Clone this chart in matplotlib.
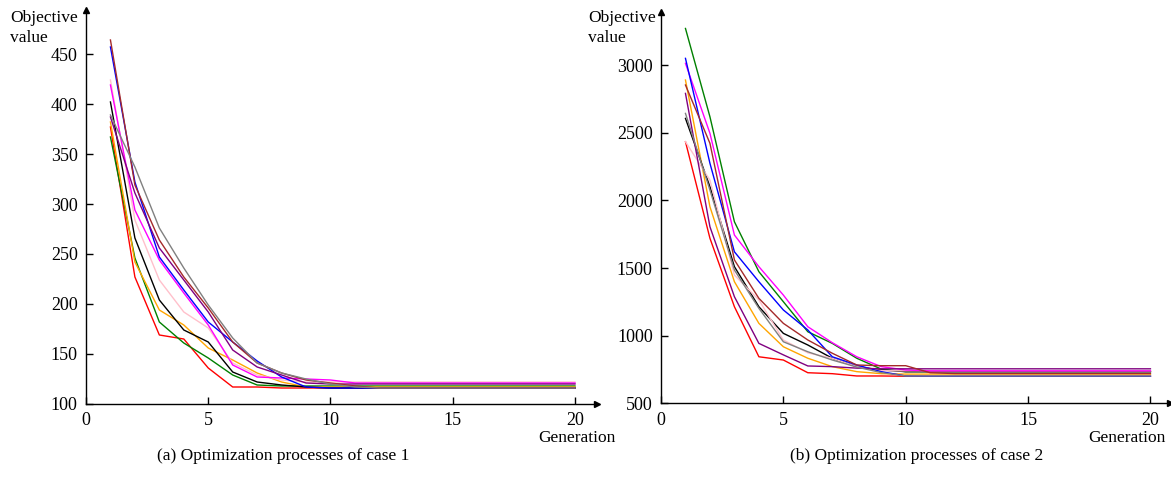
import matplotlib
matplotlib.use("Agg")
import matplotlib.pyplot as plt

plt.rcParams['font.family'] = ['Liberation Serif', 'DejaVu Serif']

generations = list(range(1, 21))
colors = ['red', 'green', 'orange', 'black', 'pink', 'magenta', 'blue', 'purple', 'brown', 'gray']

# Case 1 series (generation 1..20)
c1_red     = [377, 227, 169, 165, 136, 117, 117, 116, 116, 116, 116, 116, 116, 116, 116, 116, 116, 116, 116, 116]
c1_green   = [367, 246, 182, 161, 146, 129, 119, 118, 118, 118, 118, 118, 118, 118, 118, 118, 118, 118, 118, 118]
c1_orange  = [382, 242, 194, 179, 156, 144, 131, 122, 117, 117, 117, 117, 117, 117, 117, 117, 117, 117, 117, 117]
c1_black   = [402, 266, 204, 174, 162, 132, 122, 119, 117, 116, 116, 116, 116, 116, 116, 116, 116, 116, 116, 116]
c1_pink    = [424, 284, 224, 192, 176, 141, 129, 124, 122, 122, 122, 122, 122, 122, 122, 122, 122, 122, 122, 122]
c1_magenta = [419, 294, 244, 211, 179, 139, 127, 126, 125, 124, 121, 121, 121, 121, 121, 121, 121, 121, 121, 121]
c1_blue    = [457, 322, 247, 214, 182, 162, 143, 127, 117, 116, 116, 116, 116, 116, 116, 116, 116, 116, 116, 116]
c1_purple  = [387, 311, 256, 224, 192, 154, 137, 129, 121, 120, 120, 120, 120, 120, 120, 120, 120, 120, 120, 120]
c1_brown   = [464, 319, 264, 227, 196, 162, 141, 131, 124, 121, 118, 116, 116, 116, 116, 116, 116, 116, 116, 116]
c1_gray    = [389, 337, 276, 236, 199, 166, 141, 131, 125, 120, 117, 116, 116, 116, 116, 116, 116, 116, 116, 116]

# Case 2 series (generation 1..20)
c2_red     = [2434, 1720, 1214, 844, 820, 726, 719, 702, 702, 700, 700, 700, 700, 700, 700, 700, 700, 700, 700, 700]
c2_green   = [3271, 2618, 1842, 1473, 1251, 1029, 943, 833, 753, 734, 734, 734, 734, 734, 734, 734, 734, 734, 734, 734]
c2_orange  = [2890, 1953, 1399, 1091, 918, 833, 771, 734, 719, 716, 716, 716, 716, 716, 716, 716, 716, 716, 716, 716]
c2_black   = [2606, 2101, 1510, 1214, 1017, 931, 833, 771, 746, 734, 734, 734, 734, 734, 734, 734, 734, 734, 734, 734]
c2_pink    = [2434, 2150, 1448, 1264, 968, 873, 833, 771, 741, 740, 740, 740, 740, 740, 740, 740, 740, 740, 740, 740]
c2_magenta = [3013, 2496, 1744, 1510, 1300, 1066, 948, 844, 771, 746, 740, 740, 740, 740, 740, 740, 740, 740, 740, 740]
c2_blue    = [3050, 2274, 1620, 1399, 1190, 1042, 844, 783, 734, 702, 700, 700, 700, 700, 700, 700, 700, 700, 700, 700]
c2_purple  = [2791, 1805, 1288, 943, 858, 776, 771, 760, 755, 755, 755, 755, 755, 755, 755, 755, 755, 755, 755, 755]
c2_brown   = [2853, 2422, 1560, 1276, 1091, 968, 870, 783, 778, 778, 726, 720, 720, 720, 720, 720, 720, 720, 720, 720]
c2_gray    = [2643, 2076, 1485, 1202, 955, 881, 820, 768, 727, 702, 702, 702, 702, 702, 702, 702, 702, 702, 702, 702]

case1 = [c1_red, c1_green, c1_orange, c1_black, c1_pink, c1_magenta, c1_blue, c1_purple, c1_brown, c1_gray]
case2 = [c2_red, c2_green, c2_orange, c2_black, c2_pink, c2_magenta, c2_blue, c2_purple, c2_brown, c2_gray]

xticks = [0, 5, 10, 15, 20]
yticks1 = [100, 150, 200, 250, 300, 350, 400, 450]
yticks2 = [500, 1000, 1500, 2000, 2500, 3000]

W, H = 1171, 483
fig = plt.figure(figsize=(W / 100, H / 100), dpi=100)

ax1 = fig.add_axes([86 / W, 1 - 404 / H, 511 / W, 394 / H])
ax2 = fig.add_axes([661 / W, 1 - 403.3 / H, 509 / W, 391.6 / H])


def style(ax, yticks, ylim, xlim):
    for s in ['top', 'right']:
        ax.spines[s].set_visible(False)
    for s in ['left', 'bottom']:
        ax.spines[s].set_linewidth(1.0)
        ax.spines[s].set_color('black')
    ax.set_xlim(*xlim)
    ax.set_ylim(*ylim)
    ax.set_xticks(xticks)
    ax.set_yticks(yticks)
    ax.tick_params(direction='in', length=5, width=1, labelsize=13, pad=6)
    ax.plot(1, 0, '>', color='black', markersize=5, transform=ax.transAxes, clip_on=False)
    ax.plot(0, 1, '^', color='black', markersize=5, transform=ax.transAxes, clip_on=False)


for series, c in zip(case1, colors):
    ax1.plot(generations, series, color=c, linewidth=1.0)
for series, c in zip(case2, colors):
    ax2.plot(generations, series, color=c, linewidth=1.0)

style(ax1, yticks1, (100, 494), (0, 20.9))
style(ax2, yticks2, (500, 3395), (0, 20.8))

fig.text(10 / W, 1 - 10 / H, 'Objective\nvalue', ha='left', va='top', fontsize=12.5, linespacing=1.3)
fig.text(588 / W, 1 - 10 / H, 'Objective\nvalue', ha='left', va='top', fontsize=12.5, linespacing=1.3)
fig.text(577 / W, 1 - 438 / H, 'Generation', ha='center', va='center', fontsize=12.5)
fig.text(1127 / W, 1 - 438 / H, 'Generation', ha='center', va='center', fontsize=12.5)
fig.text(283 / W, 1 - 456 / H, '(a) Optimization processes of case 1', ha='center', va='center', fontsize=12.5)
fig.text(917 / W, 1 - 456 / H, '(b) Optimization processes of case 2', ha='center', va='center', fontsize=12.5)

fig.savefig('out.png', dpi=100)
